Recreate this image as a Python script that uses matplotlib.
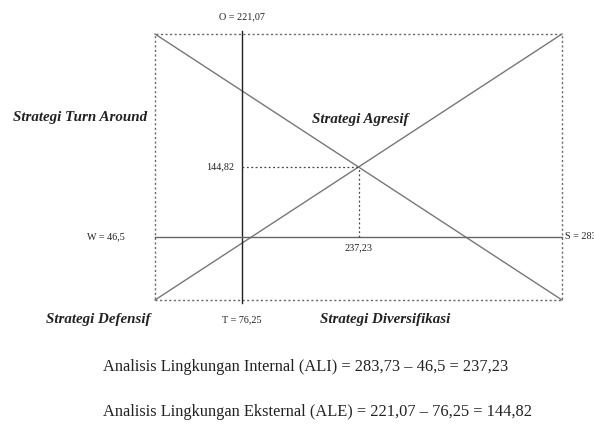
import matplotlib
matplotlib.use("Agg")
import matplotlib.pyplot as plt

plt.rcParams["font.family"] = ["Liberation Serif", "DejaVu Serif"]

# schematic coordinates (box spans 0..100 on both axes)
box_x = [0, 100, 100, 0, 0]
box_y = [0, 0, 100, 100, 0]
diag_down_x = [0, 100]
diag_down_y = [100, 0]
diag_up_x = [0, 100]
diag_up_y = [0, 100]
ot_x = 21.4            # vertical O-T line
ws_y = 23.7            # horizontal W-S line
point_x, point_y = 50, 50

label_O = "O = 221,07"
label_T = "T = 76,25"
label_W = "W = 46,5"
label_S = "S = 283"
label_px = "237,23"
label_py = "144,82"
quadrants = ["Strategi Turn Around", "Strategi Agresif",
             "Strategi Defensif", "Strategi Diversifikasi"]
notes = ["Analisis Lingkungan Internal (ALI) = 283,73 \u2013 46,5 = 237,23",
         "Analisis Lingkungan Eksternal (ALE) = 221,07 \u2013 76,25 = 144,82"]

fig = plt.figure(figsize=(5.94, 4.25), dpi=100)
ax = fig.add_axes([155 / 594, 125 / 425, 407 / 594, 266 / 425])
ax.set_xlim(0, 100)
ax.set_ylim(0, 100)
ax.axis("off")

ax.plot(box_x, box_y, color="#666666", lw=1.0, ls=(0, (1.5, 1.8)), clip_on=False)
ax.plot(diag_down_x, diag_down_y, color="#777777", lw=1.0, clip_on=False)
ax.plot(diag_up_x, diag_up_y, color="#777777", lw=1.0, clip_on=False)
ax.plot([ot_x, ot_x], [-1, 101], color="#222222", lw=1.0, clip_on=False)
ax.plot([0, 100], [ws_y, ws_y], color="#666666", lw=1.0, clip_on=False)
ax.plot([ot_x, point_x], [point_y, point_y], color="#444444", lw=0.9,
        ls=(0, (1.5, 2)))
ax.plot([point_x, point_x], [ws_y, point_y], color="#444444", lw=0.9,
        ls=(0, (1.5, 2)))

small = dict(fontsize=7.3, color="#222222", va="center")
ax.text(ot_x, 106.5, label_O, ha="center", **small)
ax.text(ot_x, -7.5, label_T, ha="center", **small)
ax.text(-7.5, ws_y, label_W, ha="right", **small)
ax.text(100.8, ws_y, label_S, ha="left", clip_on=False, **small)
ax.text(point_x, ws_y - 4, label_px, ha="center", **small)
ax.text(ot_x - 2, point_y, label_py, ha="right", **small)

strat = dict(fontsize=10.8, fontweight="bold", fontstyle="italic",
             color="#222222", va="center")
ax.text(-2, 68.5, quadrants[0], ha="right", **strat)
ax.text(38.5, 68, quadrants[1], ha="left", **strat)
ax.text(-1, -7.5, quadrants[2], ha="right", **strat)
ax.text(40.5, -7.5, quadrants[3], ha="left", **strat)

fig.text(103 / 594, 1 - 367 / 425, notes[0], fontsize=11.8, color="#222222",
         ha="left", va="center")
fig.text(103 / 594, 1 - 412 / 425, notes[1], fontsize=11.8, color="#222222",
         ha="left", va="center")

fig.savefig("out.png", dpi=100, facecolor="white")
